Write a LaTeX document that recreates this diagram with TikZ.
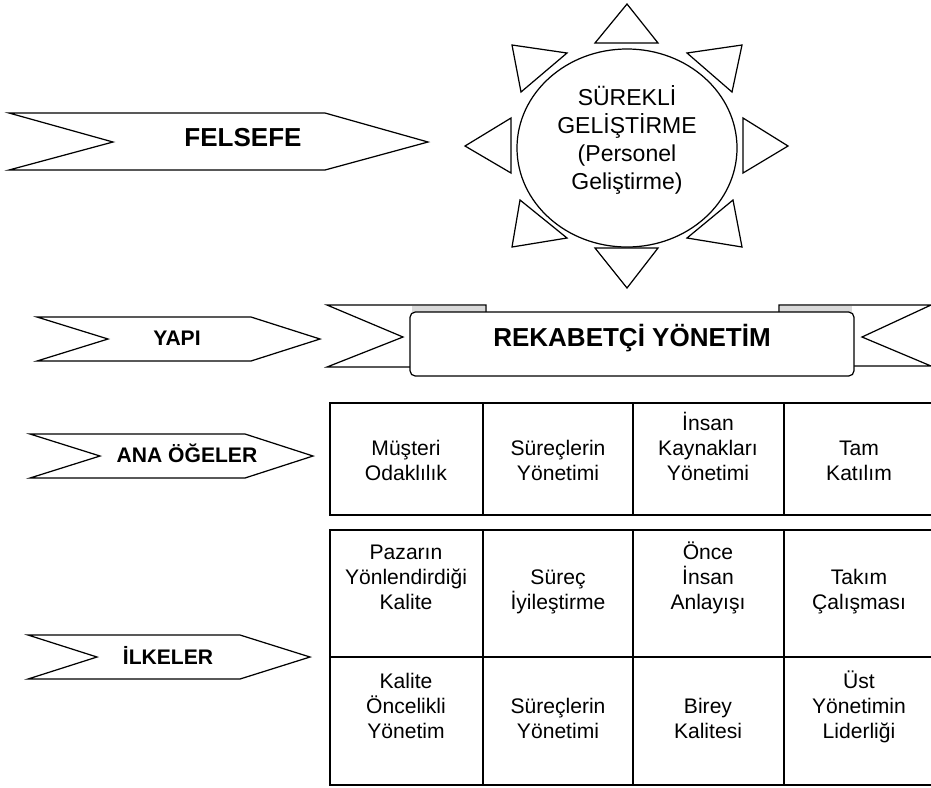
\documentclass[tikz,border=0pt]{standalone}
\usepackage{fontspec}
\setmainfont{Liberation Sans}
\usepackage{tikz}
\tikzset{
  chevron/.style={draw=black, line width=0.7pt, fill=white, line join=miter},
  tag/.style={font=\bfseries\fontsize{12}{14}\selectfont, text height=0.716em, text depth=0pt, inner sep=0pt},
  bigtag/.style={font=\bfseries\fontsize{14.8}{17}\selectfont, text height=0.716em, text depth=0pt, inner sep=0pt},
  cell/.style={align=center, anchor=south, inner sep=0pt, font=\fontsize{12}{14.2}\selectfont, execute at end node=\strut},
  tablelines/.style={draw=black, line width=0.9pt},
}

\begin{document}
\begin{tikzpicture}[x=0.2mm,y=-0.2mm]
  \useasboundingbox (0,0) rectangle (931,787);
  \clip (0,0) rectangle (931,787);
  % left chevrons
  \draw[chevron] (9,113) -- (325,113) -- (428,142) -- (325,170) -- (9,170) -- (113,142) -- cycle;
  \node[bigtag] (felsefe) at (243,140) {FELSEFE};
  \draw[chevron] (37,317) -- (251,317) -- (320,339) -- (251,361) -- (37,361) -- (108,339) -- cycle;
  \node[tag] (yapi) at (177,339) {YAPI};
  \draw[chevron] (30,434) -- (245,434) -- (313,456) -- (245,478) -- (30,478) -- (100,456) -- cycle;
  \node[tag] (anaogeler) at (187,456) {ANA ÖĞELER};
  \draw[chevron] (28,635) -- (240,635) -- (310,657) -- (240,679) -- (28,679) -- (97,657) -- cycle;
  \node[tag] (ilkeler) at (168,658) {İLKELER};
  % sun
  \draw[chevron] (627,4) -- (658,43) -- (595,43) -- cycle;
  \draw[chevron] (627,288) -- (658,248) -- (595,248) -- cycle;
  \draw[chevron] (465,146) -- (511,118) -- (511,173) -- cycle;
  \draw[chevron] (788,146) -- (743,118) -- (743,173) -- cycle;
  \draw[chevron] (512,45) -- (567,53) -- (521,92) -- cycle;
  \draw[chevron] (742,45) -- (687,53) -- (732,92) -- cycle;
  \draw[chevron] (512,247) -- (567,238) -- (520,200) -- cycle;
  \draw[chevron] (742,247) -- (687,238) -- (733,200) -- cycle;
  \draw[chevron] (627,148) ellipse (22mm and 19.8mm);
  \node[align=center, font=\fontsize{13.1}{15.9}\selectfont] (surekli) at (627,140)
    {SÜREKLİ\\GELİŞTİRME\\(Personel\\Geliştirme)};
  % banner
  \draw[chevron] (327,305) -- (486,305) -- (486,367) -- (327,367) -- (403,337) -- cycle;
  \draw[chevron] (931,305) -- (779,305) -- (779,366) -- (931,366) -- (862,337) -- cycle;
  \fill[gray!30] (412,306) rectangle (485,312);
  \fill[gray!30] (780,306) rectangle (852,312);
  \draw[chevron, rounded corners=3pt] (410,312) rectangle (854,376);
  \node[bigtag] (rekabet) at (632,340) {REKABETÇİ YÖNETİM};
  % tables
  \draw[tablelines] (330,403) rectangle (940,515);
  \foreach \x in {483,633,784} \draw[tablelines] (\x,403) -- (\x,515);
  \draw[tablelines] (330,530) rectangle (940,785);
  \draw[tablelines] (330,657) -- (940,657);
  \foreach \x in {483,633,784} \draw[tablelines] (\x,530) -- (\x,785);
  % ana ogeler
  \node[cell] (m1) at (406,488) {Müşteri\\Odaklılık};
  \node[cell] (m2) at (558,488) {Süreçlerin\\Yönetimi};
  \node[cell] (m3) at (708,488) {İnsan\\Kaynakları\\Yönetimi};
  \node[cell] (m4) at (859,488) {Tam\\Katılım};
  % ilkeler
  \node[cell] (p1) at (406,617) {Pazarın\\Yönlendirdiği\\Kalite};
  \node[cell] (p2) at (558,617) {Süreç\\İyileştirme};
  \node[cell] (p3) at (708,617) {Önce\\İnsan\\Anlayışı};
  \node[cell] (p4) at (859,617) {Takım\\Çalışması};
  \node[cell] (p5) at (406,746) {Kalite\\Öncelikli\\Yönetim};
  \node[cell] (p6) at (558,746) {Süreçlerin\\Yönetimi};
  \node[cell] (p7) at (708,746) {Birey\\Kalitesi};
  \node[cell] (p8) at (859,746) {Üst\\Yönetimin\\Liderliği};
\end{tikzpicture}
\end{document}
